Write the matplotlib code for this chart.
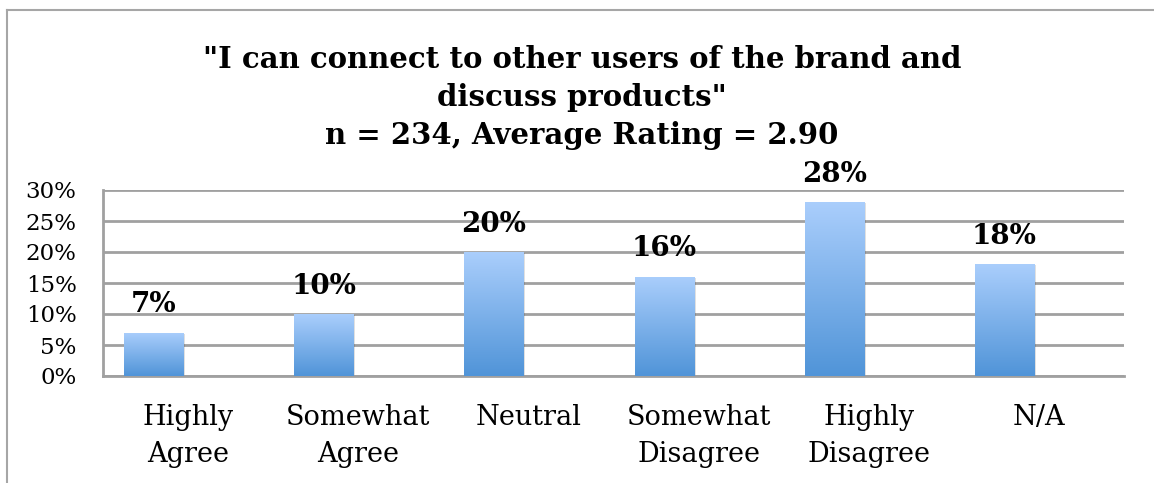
import numpy as np
import matplotlib
matplotlib.use("Agg")
import matplotlib.pyplot as plt
from matplotlib.patches import Rectangle
from matplotlib.lines import Line2D
from matplotlib.colors import LinearSegmentedColormap

categories = ["Highly\nAgree", "Somewhat\nAgree", "Neutral", "Somewhat\nDisagree", "Highly\nDisagree", "N/A"]
values = [7, 10, 20, 16, 28, 18]
yticks = [0, 5, 10, 15, 20, 25, 30]
ytick_labels = ["0%", "5%", "10%", "15%", "20%", "25%", "30%"]
title_lines = ['"I can connect to other users of the brand and', 'discuss products"', 'n = 234, Average Rating = 2.90']

W, H = 1154, 483
fig = plt.figure(figsize=(W / 100, H / 100), dpi=100)
fig.patch.set_facecolor("white")

# outer chart border (top and left)
fig.add_artist(Line2D([7 / W, 7 / W], [0, 1 - 10 / H], color="#a6a6a6", lw=1.5, transform=fig.transFigure))
fig.add_artist(Line2D([7 / W, 1], [1 - 10 / H, 1 - 10 / H], color="#a6a6a6", lw=1.5, transform=fig.transFigure))

ax = fig.add_axes([103 / W, 1 - 376 / H, (1124 - 103) / W, (376 - 190) / H])
x = np.arange(len(categories))
offset = -0.203
width = 0.347
bars = ax.bar(x + offset, values, width=width, color="none", zorder=3)

grad = np.linspace(0, 1, 256).reshape(-1, 1)
cmap = LinearSegmentedColormap.from_list("g", ["#5094d8", "#aacefc"])
for b in bars:
    x0, y0 = b.get_x(), b.get_y()
    w, h = b.get_width(), b.get_height()
    sh = Rectangle((x0 + 0.012, y0 - 0.15), w, h, facecolor="#000000", alpha=0.12, edgecolor="none", zorder=2)
    ax.add_patch(sh)
    im = ax.imshow(grad, extent=[x0, x0 + w, y0, y0 + h], origin="lower", cmap=cmap,
                   aspect="auto", zorder=3, interpolation="bicubic")
    im.set_clip_path(b)

for xi, v in zip(x, values):
    ax.text(xi + offset, v + 3.3, f"{v}%", ha="center", va="baseline", fontsize=20,
            fontweight="bold", family="DejaVu Serif", color="black")

ax.set_xlim(-0.5, len(categories) - 0.5)
ax.set_ylim(0, 30)
ax.set_yticks(yticks)
ax.set_yticklabels(ytick_labels, fontsize=16.5, family="DejaVu Serif")
ax.set_xticks(x)
ax.set_xticklabels(categories, fontsize=19.5, family="DejaVu Serif", linespacing=1.5)
ax.tick_params(axis="x", length=0, pad=20)
ax.tick_params(axis="y", length=0, pad=19)
ax.grid(axis="y", color="#a0a0a0", lw=2, zorder=1)
ax.set_axisbelow(True)
for s in ["top", "right"]:
    ax.spines[s].set_visible(False)
for s in ["left", "bottom"]:
    ax.spines[s].set_color("#a0a0a0")
    ax.spines[s].set_linewidth(2)

baselines = [68, 106, 144]
for line, yb in zip(title_lines, baselines):
    fig.text(582 / W, 1 - yb / H, line, ha="center", va="baseline", fontsize=21,
             fontweight="bold", family="DejaVu Serif")

fig.savefig("out.png", dpi=100, facecolor="white")
